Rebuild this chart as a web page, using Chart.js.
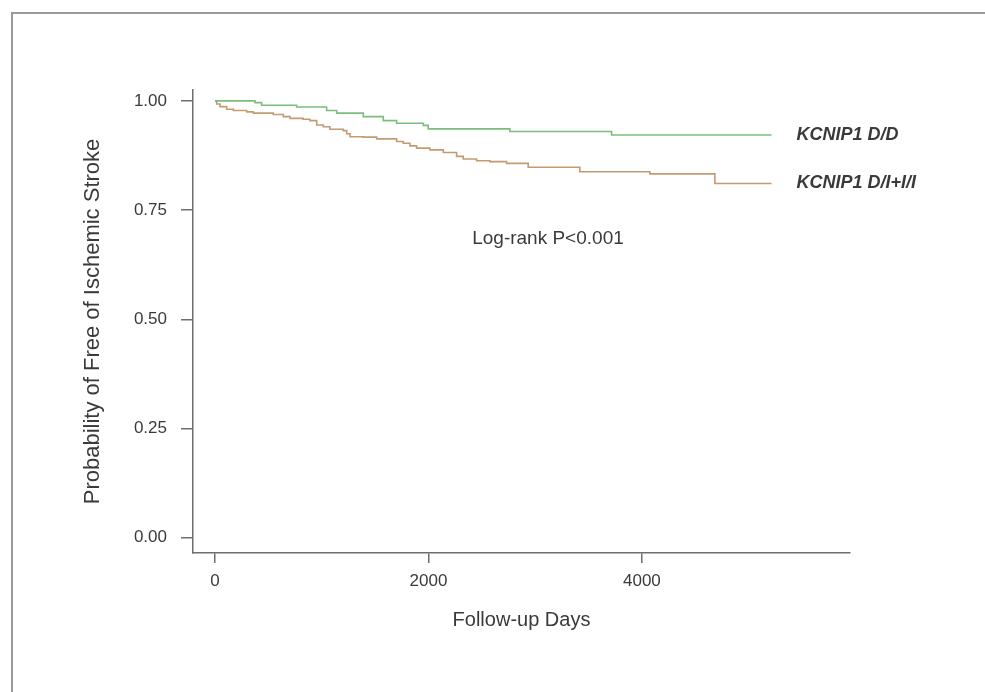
<!DOCTYPE html>
<html>
<head>
<meta charset="utf-8">
<script src="https://cdn.jsdelivr.net/npm/chart.js@4"></script>
<style>
  body { margin: 0; background: #fff; }
  #wrap { position: relative; width: 985px; height: 692px; }
</style>
</head>
<body>
<div id="wrap"><canvas id="kmChart"></canvas></div>
<script>
// survival steps (day, probability after the drop)
const ddDays = [0, 375, 437, 765, 1046, 1140, 1390, 1577, 1702, 1952, 1998, 2763, 3716, 5215];
const ddSurv = [1.0, 0.996, 0.990, 0.986, 0.978, 0.972, 0.964, 0.955, 0.949, 0.944, 0.936, 0.930, 0.922, 0.922];

const diDays = [0, 16, 47, 109, 172, 297, 359, 546, 640, 703, 827, 890, 953, 1015, 1077, 1202, 1234, 1265,
  1390, 1515, 1702, 1764, 1827, 1889, 2014, 2139, 2264, 2326, 2451, 2576, 2732, 2935, 3419, 4075, 4684, 5215];
const diSurv = [1.0, 0.993, 0.987, 0.981, 0.978, 0.975, 0.972, 0.969, 0.964, 0.960, 0.958, 0.955, 0.945, 0.941,
  0.935, 0.932, 0.925, 0.918, 0.917, 0.913, 0.907, 0.903, 0.897, 0.892, 0.888, 0.882, 0.873, 0.867, 0.863,
  0.861, 0.857, 0.848, 0.838, 0.833, 0.811, 0.811];

const seriesNames = ['KCNIP1 D/D', 'KCNIP1 D/I+I/I'];
const xTicks = [0, 2000, 4000];
const yTicks = [0, 0.25, 0.5, 0.75, 1];
const pLabel = 'Log-rank P<0.001';

const toPoints = (days, surv) => days.map((d, i) => ({ x: d, y: surv[i] }));

const ddColor = '#7cbd7c';
const diColor = '#c49a72';
const textColor = '#3a3a3a';
const axisColor = '#6e6e6e';
const fontFam = '"Liberation Sans", Arial, sans-serif';

// outer frame of the figure
const framePlugin = {
  id: 'frame',
  beforeDraw(chart) {
    const ctx = chart.ctx;
    ctx.save();
    ctx.strokeStyle = '#9a9a9a';
    ctx.lineWidth = 2;
    ctx.beginPath();
    ctx.moveTo(12, chart.height);
    ctx.lineTo(12, 13);
    ctx.lineTo(chart.width, 13);
    ctx.stroke();
    ctx.restore();
  }
};

// curve labels + log-rank text
const labelPlugin = {
  id: 'labels',
  afterDraw(chart) {
    const ctx = chart.ctx;
    const xs = chart.scales.x, ys = chart.scales.y;
    ctx.save();
    ctx.fillStyle = textColor;
    ctx.textBaseline = 'middle';
    ctx.textAlign = 'left';
    ctx.font = 'italic bold 18px ' + fontFam;
    const ends = [
      [ddDays[ddDays.length - 1], ddSurv[ddSurv.length - 1]],
      [diDays[diDays.length - 1], diSurv[diSurv.length - 1]]
    ];
    ends.forEach((e, i) => {
      ctx.fillText(seriesNames[i], xs.getPixelForValue(e[0]) + 25, ys.getPixelForValue(e[1]));
    });
    ctx.font = '19px ' + fontFam;
    ctx.textAlign = 'center';
    ctx.fillText(pLabel, xs.getPixelForValue(3120), ys.getPixelForValue(0.684));
    ctx.restore();
  }
};

new Chart(document.getElementById('kmChart'), {
  type: 'line',
  data: {
    datasets: [
      {
        label: seriesNames[0],
        data: toPoints(ddDays, ddSurv),
        borderColor: ddColor,
        borderWidth: 1.6,
        stepped: 'before',
        pointRadius: 0,
        fill: false
      },
      {
        label: seriesNames[1],
        data: toPoints(diDays, diSurv),
        borderColor: diColor,
        borderWidth: 1.6,
        stepped: 'before',
        pointRadius: 0,
        fill: false
      }
    ]
  },
  options: {
    responsive: true,
    maintainAspectRatio: false,
    animation: false,
    layout: { padding: { top: 90, right: 135, left: 0, bottom: 0 } },
    plugins: {
      legend: { display: false },
      tooltip: { enabled: false }
    },
    scales: {
      x: {
        type: 'linear',
        min: -206,
        max: 5950,
        afterBuildTicks: (scale) => { scale.ticks = xTicks.map(v => ({ value: v })); },
        afterFit: (scale) => { scale.height = 139; },
        ticks: {
          color: textColor,
          font: { family: fontFam, size: 17 },
          padding: 8,
          maxRotation: 0,
          callback: (v) => String(v)
        },
        grid: { drawOnChartArea: false, drawTicks: true, tickLength: 10, color: axisColor, lineWidth: 1.5 },
        border: { display: true, color: axisColor, width: 1.5 },
        title: {
          display: true,
          text: 'Follow-up Days',
          color: textColor,
          font: { family: fontFam, size: 20 },
          padding: { top: 0, bottom: 60 }
        }
      },
      y: {
        min: -0.035,
        max: 1.025,
        afterBuildTicks: (scale) => { scale.ticks = yTicks.map(v => ({ value: v })); },
        afterFit: (scale) => { scale.width = 193; },
        ticks: {
          color: textColor,
          font: { family: fontFam, size: 17 },
          padding: 14,
          callback: (v) => Number(v).toFixed(2)
        },
        grid: { drawOnChartArea: false, drawTicks: true, tickLength: 12, color: axisColor, lineWidth: 1.5 },
        border: { display: true, color: axisColor, width: 1.5 },
        title: {
          display: true,
          text: 'Probability of Free of Ischemic Stroke',
          color: textColor,
          font: { family: fontFam, size: 22 },
          padding: { top: 80, bottom: 0 }
        }
      }
    }
  },
  plugins: [framePlugin, labelPlugin]
});
</script>
</body>
</html>
